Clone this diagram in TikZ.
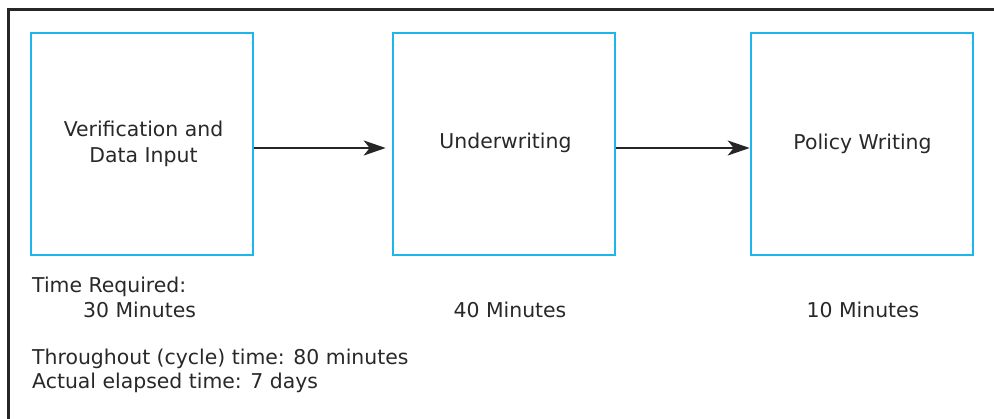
\documentclass[tikz,border=0pt]{standalone}
\usepackage{fontspec}
\setmainfont{DejaVu Sans}
\usetikzlibrary{arrows.meta}
\definecolor{boxblue}{RGB}{30,180,236}
\definecolor{txt}{RGB}{40,40,40}
\begin{document}
\begin{tikzpicture}[x=1pt,y=-1pt,
  procbox/.style={draw=boxblue,line width=2.6pt,minimum width=222pt,minimum height=222pt,inner sep=0pt},
  lbl/.style={text=txt,font=\fontsize{20.4}{26}\selectfont,inner sep=0pt,align=center},
  flow/.style={line width=2pt,draw=black!85,-{Stealth[length=22pt,width=15pt,inset=6pt]}}]
\useasboundingbox (0,0) rectangle (994,419);
\coordinate (fbl) at (8,419);
\coordinate (ftl) at (8,10);
\coordinate (ftr) at (994,10);
\draw[line width=3pt,draw=black!85] (fbl) -- (ftl) -- (ftr);
\node[procbox] (b1) at (142,144) {};
\node[procbox] (b2) at (504,144) {};
\node[procbox] (b3) at (862,144) {};
\node[lbl,anchor=base] (l1) at (143.5,163) {Verification and\\Data Input};
\node[lbl,anchor=base] (l2) at (505.5,149) {Underwriting};
\node[lbl,anchor=base] (l3) at (862.5,150) {Policy Writing};
\draw[flow] ([yshift=-4pt]b1.east) -- ([yshift=-4pt,xshift=-6pt]b2.west);
\draw[flow] ([yshift=-4pt]b2.east) -- ([yshift=-4pt]b3.west);
\node[lbl,anchor=base west] (t1) at (32,293) {Time Required:};
\node[lbl,anchor=base west] (t2) at (83,318) {30 Minutes};
\node[lbl,anchor=base] (t3) at (510,318) {40 Minutes};
\node[lbl,anchor=base] (t4) at (863,318) {10 Minutes};
\node[lbl,anchor=base west] (t5) at (32,365) {Throughout (cycle) time: 80 minutes};
\node[lbl,anchor=base west] (t6) at (32,389) {Actual elapsed time: 7 days};
\end{tikzpicture}
\end{document}
